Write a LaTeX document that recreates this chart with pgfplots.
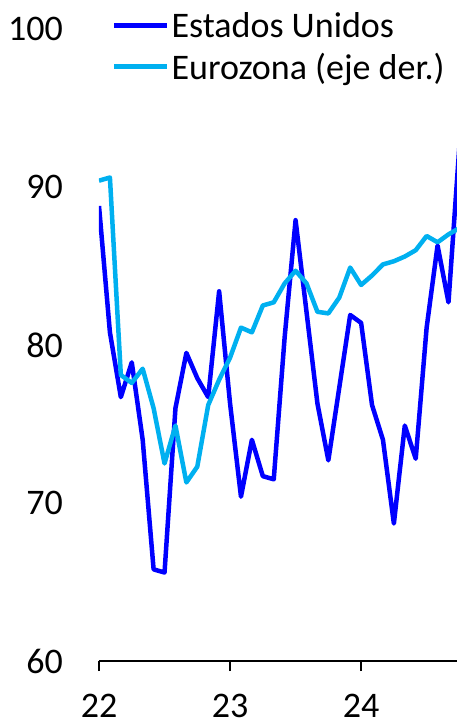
\documentclass[border=0pt]{standalone}
\usepackage{pgfplots}
\pgfplotsset{compat=1.18}
\usepackage{fontspec}
\setmainfont{Carlito}
\definecolor{usblue}{RGB}{0,0,255}
\definecolor{ezblue}{RGB}{0,176,240}
\begin{document}
\begin{tikzpicture}
\begin{axis}[
  at={(0,0)}, anchor=south west,
  scale only axis, width=358bp, height=632bp,
  xmin=0, xmax=32.78, ymin=60, ymax=100,
  axis x line*=bottom, axis y line*=left,
  y axis line style={draw=none},
  x axis line style={line width=2bp},
  ytick={60,70,80,90,100},
  ytick style={draw=none},
  xtick={0,12,24}, xticklabels={22,23,24},
  xtick style={line width=2bp, black},
  tick align=outside, major tick length=10bp,
  /pgf/number format/assume math mode=true,
  tick label style={font=\fontsize{36bp}{42bp}\selectfont},
  yticklabel style={anchor=east, inner sep=0pt, xshift=-26bp},
  xticklabel style={anchor=north, inner sep=0pt, yshift=-23bp},
  legend style={at={(axis description cs:0.036,1.03)}, anchor=north west,
    draw=none, fill=none, inner sep=0pt, row sep=10bp,
    font=\fontsize{36bp}{42bp}\selectfont},
  legend cell align=left,
  legend image code/.code={\draw[#1] (0bp,0bp) -- (53bp,0bp);},
  clip=true,
]
\addplot[usblue, line width=4.5bp, line join=round] coordinates {
(0,88.8) (1,80.8) (2,76.7) (3,78.9) (4,74.0) (5,65.8) (6,65.6) (7,76.0)
(8,79.5) (9,77.9) (10,76.7) (11,83.4) (12,76.3) (13,70.4) (14,74.0) (15,71.7)
(16,71.5) (17,80.5) (18,87.9) (19,82.1) (20,76.3) (21,72.7) (22,77.3) (23,81.9)
(24,81.4) (25,76.2) (26,74.0) (27,68.7) (28,74.9) (29,72.8) (30,81.1) (31,86.3)
(32,82.7) (33,92.6)
};
\addlegendentry{Estados Unidos}
\addplot[ezblue, line width=4.5bp, line join=round] coordinates {
(0,90.4) (1,90.6) (2,78.1) (3,77.6) (4,78.5) (5,76.0) (6,72.5) (7,74.9)
(8,71.3) (9,72.3) (10,76.2) (11,77.8) (12,79.2) (13,81.1) (14,80.8) (15,82.5)
(16,82.7) (17,83.9) (18,84.7) (19,83.9) (20,82.1) (21,82.0) (22,83.0) (23,84.9)
(24,83.8) (25,84.4) (26,85.1) (27,85.3) (28,85.6) (29,86.0) (30,86.9) (31,86.5)
(32,87.0) (33,87.4)
};
\addlegendentry{Eurozona (eje der.)}
\end{axis}
\pgfresetboundingbox
\path[use as bounding box] (-99bp,-62bp) rectangle (358bp,661bp);
\end{tikzpicture}
\end{document}
